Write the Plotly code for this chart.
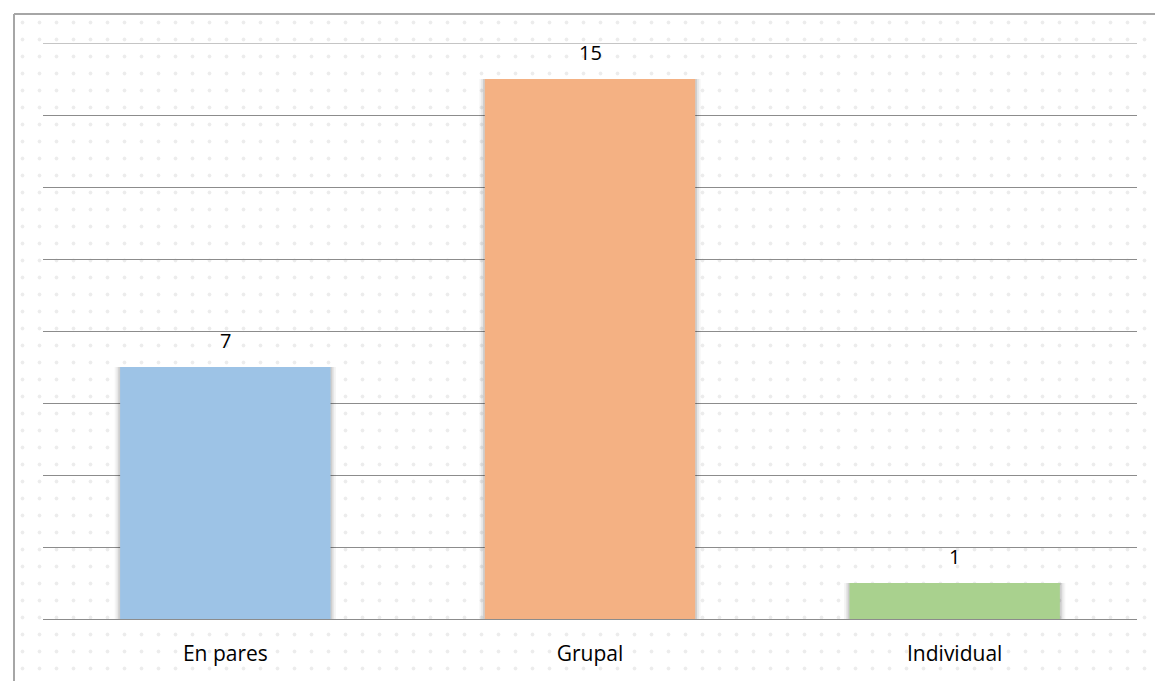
import plotly.graph_objects as go

categories = ["En pares", "Grupal", "Individual"]
values = [7, 15, 1]
colors = ["#9DC3E6", "#F4B183", "#A9D18E"]
y_ticks = [0, 2, 4, 6, 8, 10, 12, 14, 16]

W, H = 1155, 681
x0, x1 = 43 / W, 1137 / W
y0, y1 = (H - 619) / H, (H - 43) / H
FONT = "Open Sans, Lato, sans-serif"
BAR_W = 0.577

fig = go.Figure()

# decorative dotted background (whole chart area), on the first (lowest) subplot
fig.add_trace(go.Bar(
    x=[0], y=[1], width=[1], xaxis="x", yaxis="y",
    marker=dict(color="white", line=dict(width=0),
                pattern=dict(shape=".", fgcolor="#dadada", bgcolor="white",
                             size=17, solidity=0.04)),
    hoverinfo="skip", showlegend=False))

# soft layered shadows behind bars
for extra, alpha in [(0.030, 0.04), (0.020, 0.06), (0.010, 0.10)]:
    fig.add_trace(go.Bar(
        x=categories, y=values, width=BAR_W + extra, xaxis="x2", yaxis="y2",
        marker=dict(color=f"rgba(0,0,0,{alpha})", line=dict(width=0)),
        hoverinfo="skip", showlegend=False))

fig.add_trace(go.Bar(
    x=categories, y=values, width=BAR_W, xaxis="x2", yaxis="y2",
    marker=dict(color=colors, line=dict(width=0)),
    showlegend=False))

for c, v in zip(categories, values):
    fig.add_annotation(x=c, y=v, xref="x2", yref="y2", text=str(v), showarrow=False,
                       yanchor="middle", yshift=27,
                       font=dict(family=FONT, size=20, color="#000000"))

fig.update_layout(
    width=W, height=H, margin=dict(l=0, r=0, t=0, b=0),
    paper_bgcolor="white", plot_bgcolor="rgba(0,0,0,0)",
    barmode="overlay", showlegend=False,
    xaxis=dict(domain=[14 / W, 1], range=[-0.5, 0.5], visible=False, fixedrange=True),
    yaxis=dict(domain=[0, 1 - 14 / H], range=[0, 1], visible=False, fixedrange=True),
    xaxis2=dict(domain=[x0, x1], anchor="y2", showgrid=False, showline=False, zeroline=False,
                tickfont=dict(family=FONT, size=21, color="#000000"),
                ticks="", ticklabelstandoff=20),
    yaxis2=dict(domain=[y0, y1], anchor="x2", range=[0, 16], tickvals=y_ticks, showticklabels=False,
                showgrid=True, gridcolor="#8c8c8c", gridwidth=1, zeroline=True,
                zerolinecolor="#8c8c8c", zerolinewidth=1, showline=False),
    font=dict(family=FONT),
)

# top gridline at the axis maximum (plotly omits grid lines on the range edge)
fig.add_shape(type="line", xref="x2 domain", yref="y2", x0=0, x1=1, y0=y_ticks[-1], y1=y_ticks[-1],
              line=dict(color="#8c8c8c", width=1), layer="above")

# chart frame (top and left edges visible)
fig.add_shape(type="line", xref="paper", yref="paper", x0=14 / W, x1=1, y0=1 - 14 / H, y1=1 - 14 / H,
              line=dict(color="#a6a6a6", width=2))
fig.add_shape(type="line", xref="paper", yref="paper", x0=14 / W, x1=14 / W, y0=0, y1=1 - 14 / H,
              line=dict(color="#a6a6a6", width=2))

fig.write_html("out.html")
